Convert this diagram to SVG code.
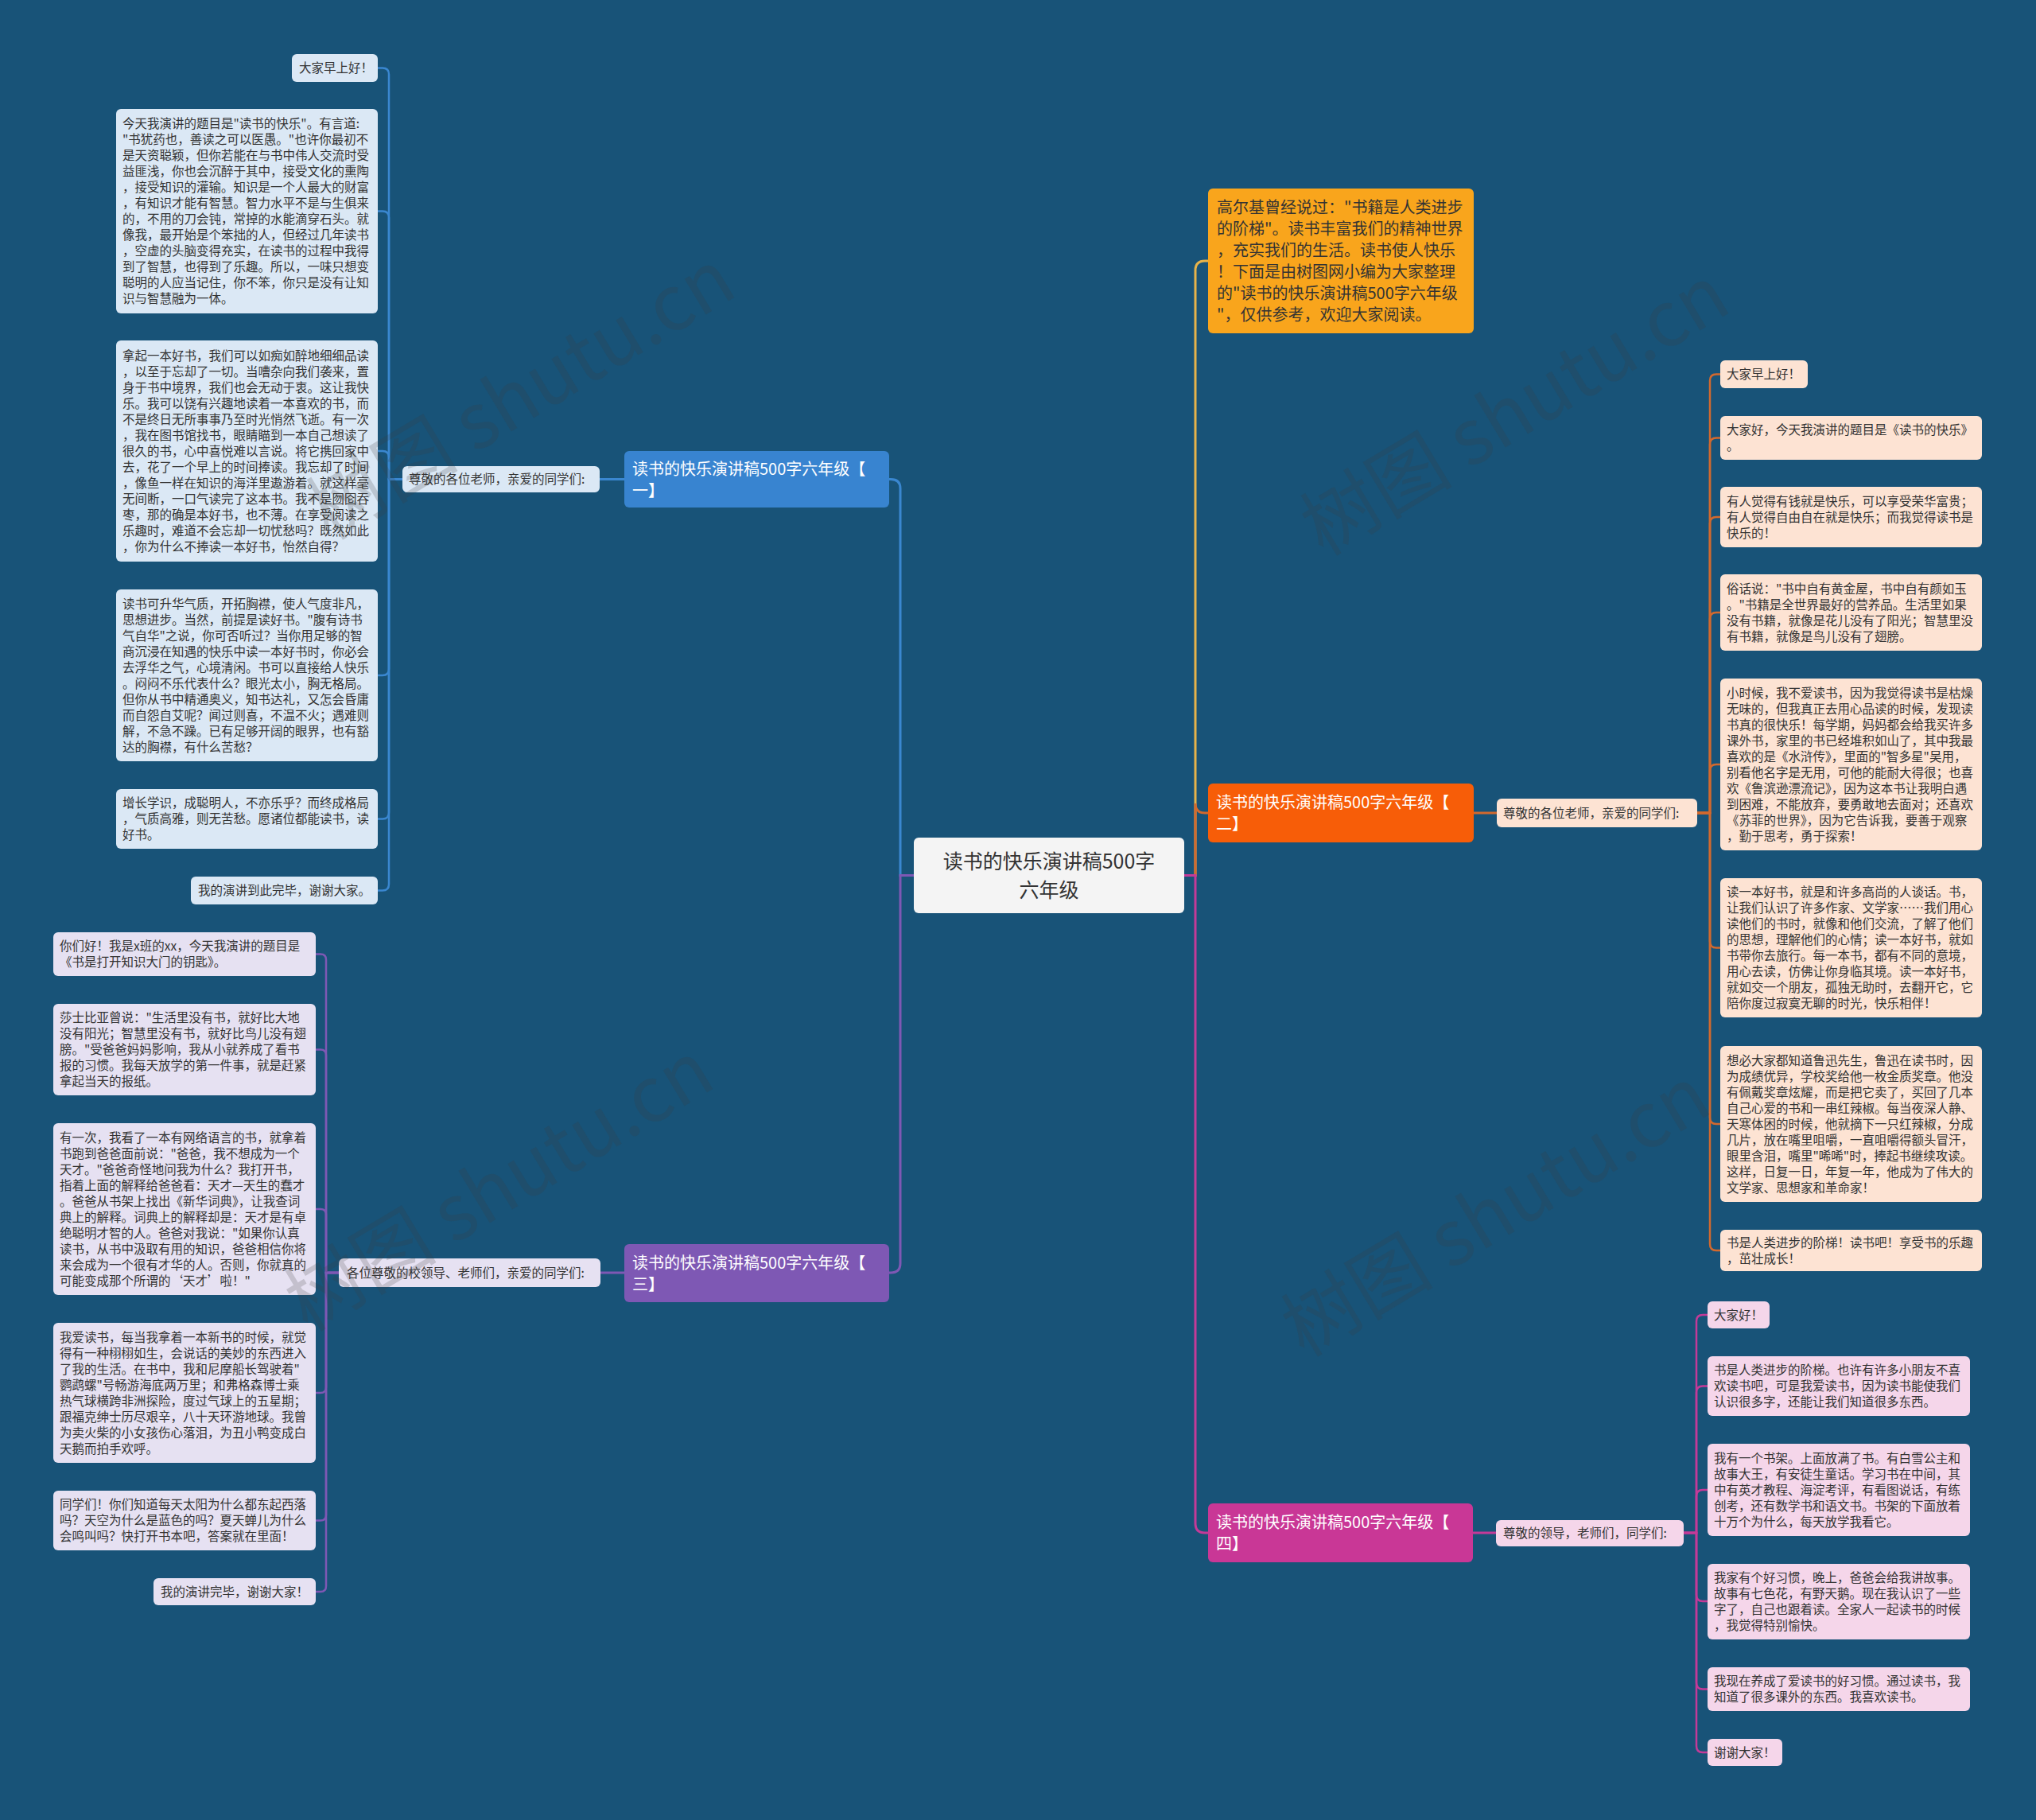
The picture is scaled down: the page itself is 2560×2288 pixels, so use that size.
<svg xmlns="http://www.w3.org/2000/svg" width="2560" height="2288" viewBox="0 0 2560 2288">
<style>
text{font-family:"Noto Sans CJK SC","Microsoft YaHei",sans-serif;}
.t{font-size:15.5px;fill:#333;}
.bt{font-size:20px;fill:#fff;}
.it{font-size:20px;fill:#333;}
.ct{font-size:25px;fill:#333;text-anchor:middle;}
.c1{fill:#dbe8f5;}
.c2{fill:#fde3d3;}
.c3{fill:#e6e1f2;}
.c4{fill:#f5d6ea;}
.ln{fill:none;stroke-width:2.5;stroke-linecap:round;}
.mn{fill:none;stroke-width:3;}
.wm{font-size:96px;fill:#3c3c3c;fill-opacity:0.2;text-anchor:middle;}
</style>
<rect x="0" y="0" width="2560" height="2288" fill="#185378"/>
<g id="connectors">
<path class="mn" stroke="#3a87d0" d="M1149,1100.5 H1132 V614 Q1132,602.5 1120,602.5 H1118"/>
<path class="mn" stroke="#7e58b4" d="M1149,1100.5 H1132 V1588 Q1132,1600 1120,1600 H1118"/>
<path class="mn" stroke="#e6b34a" d="M1489,1100.5 H1503 V340 Q1503,328 1515,328 H1519"/>
<path class="mn" stroke="#d2692e" d="M1489,1100.5 H1503 V1010 Q1503,1022 1515,1022 H1519"/>
<path class="mn" stroke="#c43a98" d="M1489,1100.5 H1503 V1915 Q1503,1927 1515,1927 H1519"/>
<path class="mn" stroke="#3a87d0" d="M785,602.5 H754"/>
<path class="mn" stroke="#7e58b4" d="M785,1600 H755"/>
<path class="mn" stroke="#d2692e" d="M1853,1022 H1882"/>
<path class="mn" stroke="#c43a98" d="M1852,1927 H1881"/>
<g stroke="#3a87d0">
<path class="ln" d="M506,602.5 H489 V93.5 Q489,85.5 481,85.5 H475"/>
<path class="ln" d="M506,602.5 H489 V273.5 Q489,265.5 481,265.5 H475"/>
<path class="ln" d="M506,602.5 H489 V575 Q489,567 481,567 H475"/>
<path class="ln" d="M506,602.5 H489 V841 Q489,849 481,849 H475"/>
<path class="ln" d="M506,602.5 H489 V1021.5 Q489,1029.5 481,1029.5 H475"/>
<path class="ln" d="M506,602.5 H489 V1111.5 Q489,1119.5 481,1119.5 H475"/>
</g>
<g stroke="#7e58b4">
<path class="ln" d="M426,1600 H410 V1206.5 Q410,1199.5 403,1199.5 H397"/>
<path class="ln" d="M426,1600 H410 V1326.5 Q410,1319.5 403,1319.5 H397"/>
<path class="ln" d="M426,1600 H410 V1527 Q410,1520 403,1520 H397"/>
<path class="ln" d="M426,1600 H410 V1744 Q410,1751 403,1751 H397"/>
<path class="ln" d="M426,1600 H410 V1904.5 Q410,1911.5 403,1911.5 H397"/>
<path class="ln" d="M426,1600 H410 V1994 Q410,2001 403,2001 H397"/>
</g>
<g stroke="#d2692e">
<path class="ln" d="M2134,1022 H2150 V478.5 Q2150,470.5 2158,470.5 H2163"/>
<path class="ln" d="M2134,1022 H2150 V558.5 Q2150,550.5 2158,550.5 H2163"/>
<path class="ln" d="M2134,1022 H2150 V658 Q2150,650 2158,650 H2163"/>
<path class="ln" d="M2134,1022 H2150 V778 Q2150,770 2158,770 H2163"/>
<path class="ln" d="M2134,1022 H2150 V969 Q2150,961 2158,961 H2163"/>
<path class="ln" d="M2134,1022 H2150 V1183.5 Q2150,1191.5 2158,1191.5 H2163"/>
<path class="ln" d="M2134,1022 H2150 V1405 Q2150,1413 2158,1413 H2163"/>
<path class="ln" d="M2134,1022 H2150 V1564 Q2150,1572 2158,1572 H2163"/>
</g>
<g stroke="#c43a98">
<path class="ln" d="M2117,1927 H2133 V1661 Q2133,1653 2141,1653 H2147"/>
<path class="ln" d="M2117,1927 H2133 V1750.5 Q2133,1742.5 2141,1742.5 H2147"/>
<path class="ln" d="M2117,1927 H2133 V1881 Q2133,1873 2141,1873 H2147"/>
<path class="ln" d="M2117,1927 H2133 V2005 Q2133,2013 2141,2013 H2147"/>
<path class="ln" d="M2117,1927 H2133 V2115.5 Q2133,2123.5 2141,2123.5 H2147"/>
<path class="ln" d="M2117,1927 H2133 V2195 Q2133,2203 2141,2203 H2147"/>
</g>
</g>

<g id="center">
<rect x="1149" y="1053" width="340" height="95" rx="6" fill="#f4f4f4"/>
<text class="ct" x="1319" y="1091.5">读书的快乐演讲稿500字</text>
<text class="ct" x="1319" y="1128">六年级</text>
</g>

<g id="intro">
<rect x="1519" y="237" width="334" height="182" rx="6" fill="#f9a51c"/>
<text class="it"><tspan x="1530" y="268">高尔基曾经说过："书籍是人类进步</tspan><tspan x="1530" y="295">的阶梯"。读书丰富我们的精神世界</tspan><tspan x="1530" y="322">，充实我们的生活。读书使人快乐</tspan><tspan x="1530" y="349">！下面是由树图网小编为大家整理</tspan><tspan x="1530" y="376">的"读书的快乐演讲稿500字六年级</tspan><tspan x="1530" y="403">"，仅供参考，欢迎大家阅读。</tspan></text>
</g>

<g id="branch1">
<rect x="785" y="567" width="333" height="71" rx="6" fill="#3884d0"/>
<text class="bt"><tspan x="795" y="596.5">读书的快乐演讲稿500字六年级【</tspan><tspan x="795" y="623.5">一】</tspan></text>
</g>
<g id="label1">
<rect x="506" y="586" width="248" height="33" rx="6" class="c1"/>
<text class="t" x="514" y="608">尊敬的各位老师，亲爱的同学们:</text>
</g>
<g id="b1c1">
<rect x="367" y="68" width="108" height="35" rx="6" class="c1"/>
<text class="t" x="376" y="91">大家早上好！</text>
</g>
<g id="b1c2">
<rect x="146" y="137" width="329" height="257" rx="6" class="c1"/>
<text class="t"><tspan x="154" y="161">今天我演讲的题目是"读书的快乐"。有言道:</tspan><tspan x="154" y="181">"书犹药也，善读之可以医愚。"也许你最初不</tspan><tspan x="154" y="201">是天资聪颖，但你若能在与书中伟人交流时受</tspan><tspan x="154" y="221">益匪浅，你也会沉醉于其中，接受文化的熏陶</tspan><tspan x="154" y="241">，接受知识的灌输。知识是一个人最大的财富</tspan><tspan x="154" y="261">，有知识才能有智慧。智力水平不是与生俱来</tspan><tspan x="154" y="281">的，不用的刀会钝，常掉的水能滴穿石头。就</tspan><tspan x="154" y="301">像我，最开始是个笨拙的人，但经过几年读书</tspan><tspan x="154" y="321">，空虚的头脑变得充实，在读书的过程中我得</tspan><tspan x="154" y="341">到了智慧，也得到了乐趣。所以，一味只想变</tspan><tspan x="154" y="361">聪明的人应当记住，你不笨，你只是没有让知</tspan><tspan x="154" y="381">识与智慧融为一体。</tspan></text>
</g>
<g id="b1c3">
<rect x="146" y="428" width="329" height="278" rx="6" class="c1"/>
<text class="t"><tspan x="154" y="452.5">拿起一本好书，我们可以如痴如醉地细细品读</tspan><tspan x="154" y="472.5">，以至于忘却了一切。当嘈杂向我们袭来，置</tspan><tspan x="154" y="492.5">身于书中境界，我们也会无动于衷。这让我快</tspan><tspan x="154" y="512.5">乐。我可以饶有兴趣地读着一本喜欢的书，而</tspan><tspan x="154" y="532.5">不是终日无所事事乃至时光悄然飞逝。有一次</tspan><tspan x="154" y="552.5">，我在图书馆找书，眼睛瞄到一本自己想读了</tspan><tspan x="154" y="572.5">很久的书，心中喜悦难以言说。将它携回家中</tspan><tspan x="154" y="592.5">去，花了一个早上的时间捧读。我忘却了时间</tspan><tspan x="154" y="612.5">，像鱼一样在知识的海洋里遨游着。就这样毫</tspan><tspan x="154" y="632.5">无间断，一口气读完了这本书。我不是囫囵吞</tspan><tspan x="154" y="652.5">枣，那的确是本好书，也不薄。在享受阅读之</tspan><tspan x="154" y="672.5">乐趣时，难道不会忘却一切忧愁吗？既然如此</tspan><tspan x="154" y="692.5">，你为什么不捧读一本好书，怡然自得？</tspan></text>
</g>
<g id="b1c4">
<rect x="146" y="741" width="329" height="216" rx="6" class="c1"/>
<text class="t"><tspan x="154" y="764.5">读书可升华气质，开拓胸襟，使人气度非凡，</tspan><tspan x="154" y="784.5">思想进步。当然，前提是读好书。"腹有诗书</tspan><tspan x="154" y="804.5">气自华"之说，你可否听过？当你用足够的智</tspan><tspan x="154" y="824.5">商沉浸在知遇的快乐中读一本好书时，你必会</tspan><tspan x="154" y="844.5">去浮华之气，心境清闲。书可以直接给人快乐</tspan><tspan x="154" y="864.5">。闷闷不乐代表什么？眼光太小，胸无格局。</tspan><tspan x="154" y="884.5">但你从书中精通奥义，知书达礼，又怎会昏庸</tspan><tspan x="154" y="904.5">而自怨自艾呢？闻过则喜，不温不火；遇难则</tspan><tspan x="154" y="924.5">解，不急不躁。已有足够开阔的眼界，也有豁</tspan><tspan x="154" y="944.5">达的胸襟，有什么苦愁？</tspan></text>
</g>
<g id="b1c5">
<rect x="146" y="992" width="329" height="75" rx="6" class="c1"/>
<text class="t"><tspan x="154" y="1015">增长学识，成聪明人，不亦乐乎？而终成格局</tspan><tspan x="154" y="1035">，气质高雅，则无苦愁。愿诸位都能读书，读</tspan><tspan x="154" y="1055">好书。</tspan></text>
</g>
<g id="b1c6">
<rect x="240" y="1102" width="235" height="35" rx="6" class="c1"/>
<text class="t" x="249" y="1125">我的演讲到此完毕，谢谢大家。</text>
</g>

<g id="branch3">
<rect x="785" y="1564" width="333" height="73" rx="6" fill="#7e58b4"/>
<text class="bt"><tspan x="795" y="1594.5">读书的快乐演讲稿500字六年级【</tspan><tspan x="795" y="1621.5">三】</tspan></text>
</g>
<g id="label3">
<rect x="426" y="1582" width="329" height="36" rx="6" class="c3"/>
<text class="t" x="436" y="1605.5">各位尊敬的校领导、老师们，亲爱的同学们:</text>
</g>
<g id="b3c1">
<rect x="67" y="1172" width="330" height="55" rx="6" class="c3"/>
<text class="t"><tspan x="75" y="1195">你们好！我是x班的xx，今天我演讲的题目是</tspan><tspan x="75" y="1215">《书是打开知识大门的钥匙》。</tspan></text>
</g>
<g id="b3c2">
<rect x="67" y="1262" width="330" height="115" rx="6" class="c3"/>
<text class="t"><tspan x="75" y="1285">莎士比亚曾说："生活里没有书，就好比大地</tspan><tspan x="75" y="1305">没有阳光；智慧里没有书，就好比鸟儿没有翅</tspan><tspan x="75" y="1325">膀。"受爸爸妈妈影响，我从小就养成了看书</tspan><tspan x="75" y="1345">报的习惯。我每天放学的第一件事，就是赶紧</tspan><tspan x="75" y="1365">拿起当天的报纸。</tspan></text>
</g>
<g id="b3c3">
<rect x="67" y="1412" width="330" height="216" rx="6" class="c3"/>
<text class="t"><tspan x="75" y="1435.5">有一次，我看了一本有网络语言的书，就拿着</tspan><tspan x="75" y="1455.5">书跑到爸爸面前说："爸爸，我不想成为一个</tspan><tspan x="75" y="1475.5">天才。"爸爸奇怪地问我为什么？我打开书，</tspan><tspan x="75" y="1495.5">指着上面的解释给爸爸看：天才—天生的蠢才</tspan><tspan x="75" y="1515.5">。爸爸从书架上找出《新华词典》，让我查词</tspan><tspan x="75" y="1535.5">典上的解释。词典上的解释却是：天才是有卓</tspan><tspan x="75" y="1555.5">绝聪明才智的人。爸爸对我说："如果你认真</tspan><tspan x="75" y="1575.5">读书，从书中汲取有用的知识，爸爸相信你将</tspan><tspan x="75" y="1595.5">来会成为一个很有才华的人。否则，你就真的</tspan><tspan x="75" y="1615.5">可能变成那个所谓的‘天才’啦！"</tspan></text>
</g>
<g id="b3c4">
<rect x="67" y="1663" width="330" height="176" rx="6" class="c3"/>
<text class="t"><tspan x="75" y="1686.5">我爱读书，每当我拿着一本新书的时候，就觉</tspan><tspan x="75" y="1706.5">得有一种栩栩如生，会说话的美妙的东西进入</tspan><tspan x="75" y="1726.5">了我的生活。在书中，我和尼摩船长驾驶着"</tspan><tspan x="75" y="1746.5">鹦鹉螺"号畅游海底两万里；和弗格森博士乘</tspan><tspan x="75" y="1766.5">热气球横跨非洲探险，度过气球上的五星期；</tspan><tspan x="75" y="1786.5">跟福克绅士历尽艰辛，八十天环游地球。我曾</tspan><tspan x="75" y="1806.5">为卖火柴的小女孩伤心落泪，为丑小鸭变成白</tspan><tspan x="75" y="1826.5">天鹅而拍手欢呼。</tspan></text>
</g>
<g id="b3c5">
<rect x="67" y="1874" width="330" height="75" rx="6" class="c3"/>
<text class="t"><tspan x="75" y="1897">同学们！你们知道每天太阳为什么都东起西落</tspan><tspan x="75" y="1917">吗？天空为什么是蓝色的吗？夏天蝉儿为什么</tspan><tspan x="75" y="1937">会鸣叫吗？快打开书本吧，答案就在里面！</tspan></text>
</g>
<g id="b3c6">
<rect x="193" y="1984" width="204" height="34" rx="6" class="c3"/>
<text class="t" x="202" y="2006.5">我的演讲完毕，谢谢大家！</text>
</g>

<g id="branch2">
<rect x="1519" y="985" width="334" height="74" rx="6" fill="#f75d08"/>
<text class="bt"><tspan x="1529" y="1016">读书的快乐演讲稿500字六年级【</tspan><tspan x="1529" y="1043">二】</tspan></text>
</g>
<g id="label2">
<rect x="1882" y="1004" width="252" height="36" rx="6" class="c2"/>
<text class="t" x="1890" y="1027.5">尊敬的各位老师，亲爱的同学们:</text>
</g>
<g id="b2c1">
<rect x="2163" y="453" width="110" height="35" rx="6" class="c2"/>
<text class="t" x="2171" y="476">大家早上好！</text>
</g>
<g id="b2c2">
<rect x="2163" y="523" width="329" height="55" rx="6" class="c2"/>
<text class="t"><tspan x="2171" y="546">大家好，今天我演讲的题目是《读书的快乐》</tspan><tspan x="2171" y="566">。</tspan></text>
</g>
<g id="b2c3">
<rect x="2163" y="612" width="329" height="76" rx="6" class="c2"/>
<text class="t"><tspan x="2171" y="635.5">有人觉得有钱就是快乐，可以享受荣华富贵；</tspan><tspan x="2171" y="655.5">有人觉得自由自在就是快乐；而我觉得读书是</tspan><tspan x="2171" y="675.5">快乐的！</tspan></text>
</g>
<g id="b2c4">
<rect x="2163" y="722" width="329" height="96" rx="6" class="c2"/>
<text class="t"><tspan x="2171" y="745.5">俗话说："书中自有黄金屋，书中自有颜如玉</tspan><tspan x="2171" y="765.5">。"书籍是全世界最好的营养品。生活里如果</tspan><tspan x="2171" y="785.5">没有书籍，就像是花儿没有了阳光；智慧里没</tspan><tspan x="2171" y="805.5">有书籍，就像是鸟儿没有了翅膀。</tspan></text>
</g>
<g id="b2c5">
<rect x="2163" y="853" width="329" height="216" rx="6" class="c2"/>
<text class="t"><tspan x="2171" y="876.5">小时候，我不爱读书，因为我觉得读书是枯燥</tspan><tspan x="2171" y="896.5">无味的，但我真正去用心品读的时候，发现读</tspan><tspan x="2171" y="916.5">书真的很快乐！每学期，妈妈都会给我买许多</tspan><tspan x="2171" y="936.5">课外书，家里的书已经堆积如山了，其中我最</tspan><tspan x="2171" y="956.5">喜欢的是《水浒传》，里面的"智多星"吴用，</tspan><tspan x="2171" y="976.5">别看他名字是无用，可他的能耐大得很；也喜</tspan><tspan x="2171" y="996.5">欢《鲁滨逊漂流记》，因为这本书让我明白遇</tspan><tspan x="2171" y="1016.5">到困难，不能放弃，要勇敢地去面对；还喜欢</tspan><tspan x="2171" y="1036.5">《苏菲的世界》，因为它告诉我，要善于观察</tspan><tspan x="2171" y="1056.5">，勤于思考，勇于探索！</tspan></text>
</g>
<g id="b2c6">
<rect x="2163" y="1104" width="329" height="175" rx="6" class="c2"/>
<text class="t"><tspan x="2171" y="1127">读一本好书，就是和许多高尚的人谈话。书，</tspan><tspan x="2171" y="1147">让我们认识了许多作家、文学家……我们用心</tspan><tspan x="2171" y="1167">读他们的书时，就像和他们交流，了解了他们</tspan><tspan x="2171" y="1187">的思想，理解他们的心情；读一本好书，就如</tspan><tspan x="2171" y="1207">书带你去旅行。每一本书，都有不同的意境，</tspan><tspan x="2171" y="1227">用心去读，仿佛让你身临其境。读一本好书，</tspan><tspan x="2171" y="1247">就如交一个朋友，孤独无助时，去翻开它，它</tspan><tspan x="2171" y="1267">陪你度过寂寞无聊的时光，快乐相伴！</tspan></text>
</g>
<g id="b2c7">
<rect x="2163" y="1315" width="329" height="196" rx="6" class="c2"/>
<text class="t"><tspan x="2171" y="1338.5">想必大家都知道鲁迅先生，鲁迅在读书时，因</tspan><tspan x="2171" y="1358.5">为成绩优异，学校奖给他一枚金质奖章。他没</tspan><tspan x="2171" y="1378.5">有佩戴奖章炫耀，而是把它卖了，买回了几本</tspan><tspan x="2171" y="1398.5">自己心爱的书和一串红辣椒。每当夜深人静、</tspan><tspan x="2171" y="1418.5">天寒体困的时候，他就摘下一只红辣椒，分成</tspan><tspan x="2171" y="1438.5">几片，放在嘴里咀嚼，一直咀嚼得额头冒汗，</tspan><tspan x="2171" y="1458.5">眼里含泪，嘴里"唏唏"时，捧起书继续攻读。</tspan><tspan x="2171" y="1478.5">这样，日复一日，年复一年，他成为了伟大的</tspan><tspan x="2171" y="1498.5">文学家、思想家和革命家！</tspan></text>
</g>
<g id="b2c8">
<rect x="2163" y="1546" width="329" height="52" rx="6" class="c2"/>
<text class="t"><tspan x="2171" y="1567.5">书是人类进步的阶梯！读书吧！享受书的乐趣</tspan><tspan x="2171" y="1587.5">，茁壮成长！</tspan></text>
</g>

<g id="branch4">
<rect x="1519" y="1890" width="333" height="74" rx="6" fill="#c93796"/>
<text class="bt"><tspan x="1529" y="1921">读书的快乐演讲稿500字六年级【</tspan><tspan x="1529" y="1948">四】</tspan></text>
</g>
<g id="label4">
<rect x="1881" y="1911" width="236" height="33" rx="6" class="c4"/>
<text class="t" x="1890" y="1933">尊敬的领导，老师们，同学们:</text>
</g>
<g id="b4c1">
<rect x="2147" y="1636" width="78" height="34" rx="6" class="c4"/>
<text class="t" x="2155" y="1658.5">大家好！</text>
</g>
<g id="b4c2">
<rect x="2147" y="1705" width="330" height="75" rx="6" class="c4"/>
<text class="t"><tspan x="2155" y="1728">书是人类进步的阶梯。也许有许多小朋友不喜</tspan><tspan x="2155" y="1748">欢读书吧，可是我爱读书，因为读书能使我们</tspan><tspan x="2155" y="1768">认识很多字，还能让我们知道很多东西。</tspan></text>
</g>
<g id="b4c3">
<rect x="2147" y="1815" width="330" height="116" rx="6" class="c4"/>
<text class="t"><tspan x="2155" y="1838.5">我有一个书架。上面放满了书。有白雪公主和</tspan><tspan x="2155" y="1858.5">故事大王，有安徒生童话。学习书在中间，其</tspan><tspan x="2155" y="1878.5">中有英才教程、海淀考评，有看图说话，有练</tspan><tspan x="2155" y="1898.5">创考，还有数学书和语文书。书架的下面放着</tspan><tspan x="2155" y="1918.5">十万个为什么，每天放学我看它。</tspan></text>
</g>
<g id="b4c4">
<rect x="2147" y="1966" width="330" height="95" rx="6" class="c4"/>
<text class="t"><tspan x="2155" y="1989">我家有个好习惯，晚上，爸爸会给我讲故事。</tspan><tspan x="2155" y="2009">故事有七色花，有野天鹅。现在我认识了一些</tspan><tspan x="2155" y="2029">字了，自己也跟着读。全家人一起读书的时候</tspan><tspan x="2155" y="2049">，我觉得特别愉快。</tspan></text>
</g>
<g id="b4c5">
<rect x="2147" y="2096" width="330" height="55" rx="6" class="c4"/>
<text class="t"><tspan x="2155" y="2119">我现在养成了爱读书的好习惯。通过读书，我</tspan><tspan x="2155" y="2139">知道了很多课外的东西。我喜欢读书。</tspan></text>
</g>
<g id="b4c6">
<rect x="2147" y="2186" width="94" height="34" rx="6" class="c4"/>
<text class="t" x="2155" y="2208.5">谢谢大家！</text>
</g>

<g id="watermarks">
<text class="wm" transform="translate(672,525) rotate(-31)">树图 shutu.cn</text>
<text class="wm" transform="translate(1922,545) rotate(-31)">树图 shutu.cn</text>
<text class="wm" transform="translate(645,1520) rotate(-31)">树图 shutu.cn</text>
<text class="wm" transform="translate(1898,1552) rotate(-31)">树图 shutu.cn</text>
</g>
</svg>
